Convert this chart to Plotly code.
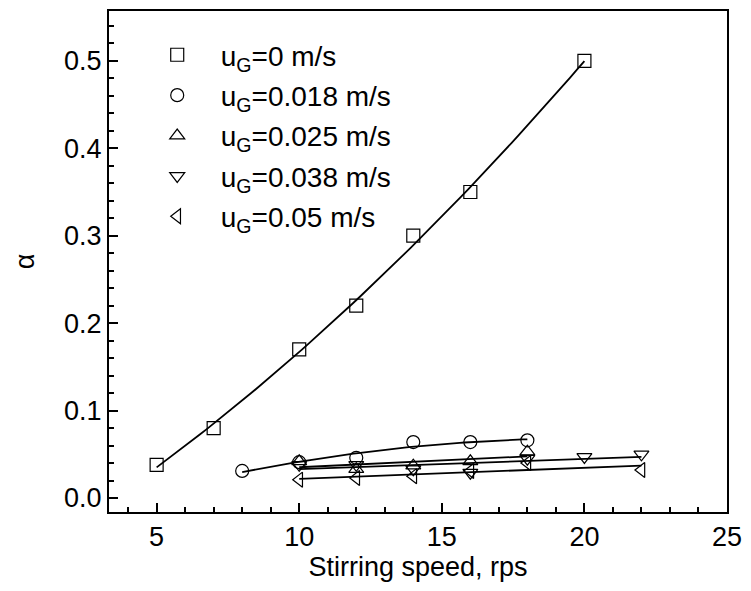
import numpy as np
import plotly.graph_objects as go

# Stirring speed (rps) and measured alpha for each superficial gas velocity
x_ug0 = [5, 7, 10, 12, 14, 16, 20]
y_ug0 = [0.038, 0.080, 0.170, 0.220, 0.300, 0.350, 0.500]

x_ug018 = [8, 10, 12, 14, 16, 18]
y_ug018 = [0.031, 0.041, 0.046, 0.064, 0.064, 0.066]

x_ug025 = [10, 12, 14, 16, 18]
y_ug025 = [0.042, 0.033, 0.037, 0.042, 0.053]

x_ug038 = [10, 12, 14, 16, 18, 20, 22]
y_ug038 = [0.038, 0.038, 0.033, 0.029, 0.045, 0.047, 0.050]

x_ug05 = [10, 12, 14, 16, 18, 22]
y_ug05 = [0.021, 0.023, 0.025, 0.031, 0.040, 0.032]

labels = ["u<sub>G</sub>=0 m/s", "u<sub>G</sub>=0.018 m/s", "u<sub>G</sub>=0.025 m/s",
          "u<sub>G</sub>=0.038 m/s", "u<sub>G</sub>=0.05 m/s"]
symbols = ["square-open", "circle-open", "triangle-up-open", "triangle-down-open", "triangle-left-open"]
fit_degree = [2, 2, 1, 1, 1]

series = [(x_ug0, y_ug0), (x_ug018, y_ug018), (x_ug025, y_ug025),
          (x_ug038, y_ug038), (x_ug05, y_ug05)]

FONT = "Liberation Sans, Arial, sans-serif"
FS = 27
fig = go.Figure()

# least-squares fit curves through each data set
for (xs, ys), deg in zip(series, fit_degree):
    coef = np.polyfit(xs, ys, deg)
    xf = np.linspace(min(xs), max(xs), 60)
    fig.add_trace(go.Scatter(x=xf, y=np.polyval(coef, xf), mode="lines",
                             line=dict(color="black", width=1.8),
                             showlegend=False, hoverinfo="skip"))

for i, ((xs, ys), lab, sym) in enumerate(zip(series, labels, symbols)):
    fig.add_trace(go.Scatter(x=xs, y=ys, mode="markers", name=lab, legendgroup=f"g{i}",
                             marker=dict(symbol=sym, size=13, color="black",
                                         line=dict(color="black", width=1.2))))

axis_common = dict(showline=True, linecolor="black", linewidth=2, mirror=True,
                   ticks="inside", ticklen=9, tickwidth=1.6, tickcolor="black",
                   showgrid=False, zeroline=False,
                   tickfont=dict(family=FONT, size=FS, color="black"))

fig.update_xaxes(range=[3.33, 25], tick0=5, dtick=5,
                 minor=dict(ticks="inside", ticklen=5, dtick=1, tick0=5, tickcolor="black", tickwidth=1.6),
                 title=dict(text="Stirring speed, rps", font=dict(family=FONT, size=FS, color="black"),
                            standoff=5),
                 **axis_common)
fig.update_yaxes(range=[-0.016, 0.557], tick0=0, dtick=0.1, tickformat=".1f",
                 minor=dict(ticks="inside", ticklen=5, dtick=0.02, tick0=0, tickcolor="black", tickwidth=1.6),
                 title=dict(text="α", font=dict(family=FONT, size=FS, color="black"), standoff=22),
                 **axis_common)

fig.update_layout(
    width=751, height=591,
    margin=dict(l=109, r=18, t=9, b=79),
    plot_bgcolor="white", paper_bgcolor="white",
    legend=dict(x=0.040, y=0.962, xanchor="left", yanchor="top",
                bgcolor="rgba(0,0,0,0)", itemwidth=77, tracegroupgap=1,
                font=dict(family=FONT, size=28, color="black")),
)

fig.write_html("out.html")
